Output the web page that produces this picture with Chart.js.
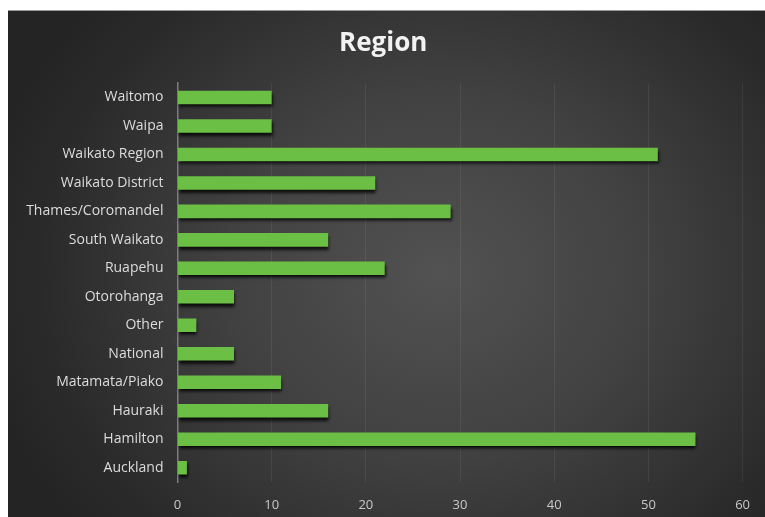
<!DOCTYPE html>
<html>
<head>
<meta charset="utf-8">
<script src="https://cdn.jsdelivr.net/npm/chart.js@4/dist/chart.umd.min.js"></script>
<style>
    html, body { margin: 0; padding: 0; background: #ffffff; }
    #frame {
        position: absolute;
        left: 8px;
        top: 10px;
        width: 757px;
        height: 507px;
        border-top: 1px solid #9a9a9a;
        box-sizing: border-box;
        background: radial-gradient(ellipse 62% 80% at 57% 52%, #525252 0%, #414141 45%, #2a2a2a 85%, #242424 100%);
    }
</style>
</head>
<body>
<div id="frame"><canvas id="regionChart" width="757" height="506"></canvas></div>
<script>
// categories in axis order, top first
const regions = [
    'Waitomo', 'Waipa', 'Waikato Region', 'Waikato District', 'Thames/Coromandel',
    'South Waikato', 'Ruapehu', 'Otorohanga', 'Other', 'National',
    'Matamata/Piako', 'Hauraki', 'Hamilton', 'Auckland'
];
const counts = [10, 10, 51, 21, 29, 16, 22, 6, 2, 6, 11, 16, 55, 1];
const axisMin = 0;
const axisMax = 60;
const axisStep = 10;

const labelFont = { family: '"Open Sans", Lato, sans-serif', size: 14 };

// soft drop shadow under the bars
const barShadow = {
    id: 'barShadow',
    beforeDatasetsDraw(chart) {
        const ctx = chart.ctx;
        ctx.save();
        ctx.shadowColor = 'rgba(0, 0, 0, 0.8)';
        ctx.shadowOffsetX = 1;
        ctx.shadowOffsetY = 3;
        ctx.shadowBlur = 3;
    },
    afterDatasetsDraw(chart) {
        chart.ctx.restore();
    }
};

const ctx = document.getElementById('regionChart');

new Chart(ctx, {
    type: 'bar',
    data: {
        labels: regions,
        datasets: [{
            label: 'Region',
            data: counts,
            backgroundColor: '#6cbf45',
            borderWidth: 0,
            barPercentage: 0.95,
            categoryPercentage: 0.5
        }]
    },
    options: {
        indexAxis: 'y',
        responsive: false,
        animation: false,
        layout: {
            // nearly even side padding keeps the title centred
            padding: { left: 14, right: 20.5, top: 0, bottom: 0 }
        },
        plugins: {
            legend: { display: false },
            tooltip: { enabled: false },
            title: {
                display: true,
                text: 'Region',
                color: '#f2f2f2',
                font: { family: '"Open Sans", Lato, sans-serif', size: 26, weight: 'bold', lineHeight: 1.2 },
                padding: { top: 17, bottom: 24 }
            }
        },
        scales: {
            x: {
                min: axisMin,
                max: axisMax,
                border: { display: false },
                grid: {
                    color: 'rgba(255, 255, 255, 0.07)',
                    drawTicks: false
                },
                ticks: {
                    stepSize: axisStep,
                    color: '#c8c8c8',
                    padding: 15,
                    font: { family: '"Open Sans", Lato, sans-serif', size: 13 }
                },
                afterFit(scale) { scale.height = 35; }
            },
            y: {
                border: { display: true, color: '#7c7c86', width: 1.5 },
                grid: { display: false, drawTicks: false },
                ticks: {
                    color: '#dcdcdc',
                    padding: 14,
                    font: labelFont
                },
                afterFit(scale) { scale.width = 155.5; }
            }
        }
    },
    plugins: [barShadow]
});
</script>
</body>
</html>
